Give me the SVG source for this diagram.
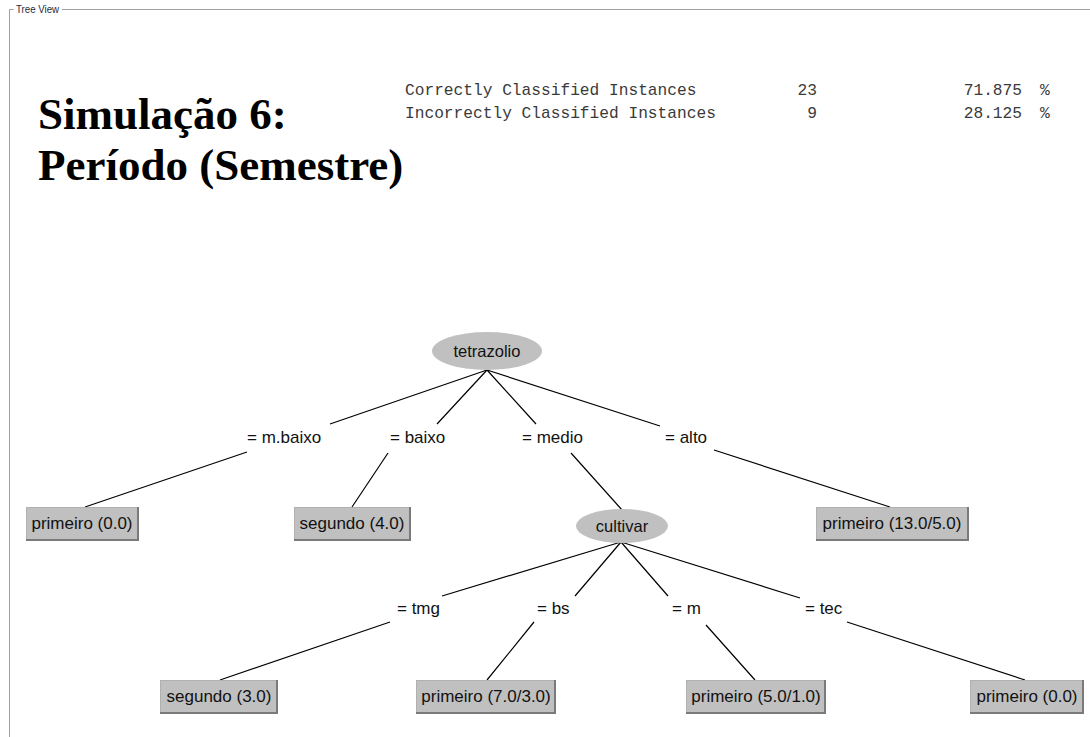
<svg xmlns="http://www.w3.org/2000/svg" width="1090" height="737" viewBox="0 0 1090 737">
  <style>
    .frame { stroke: #a0a0a0; stroke-width: 1; fill: none; }
    .frame-title { font-family: "Liberation Sans", Arial, sans-serif; font-size: 11px; fill: #1e2a44; }
    .title { font-family: "Liberation Serif", "Times New Roman", serif; font-weight: bold; font-size: 45px; fill: #000; }
    .stats { font-family: "Liberation Mono", "Courier New", monospace; font-size: 16.2px; fill: #3a3a3a; }
    .edge { stroke: #000; stroke-width: 1.2; fill: none; }
    .lbl { font-family: "Liberation Sans", Arial, sans-serif; font-size: 17px; fill: #111; }
    .oval { fill: #c0c0c0; }
    .leaf { fill: #c0c0c0; stroke: #b0b0b0; stroke-width: 1; }
    .shade { fill: none; stroke: #7a7a7a; stroke-width: 2; }
    .node-text { font-family: "Liberation Sans", Arial, sans-serif; font-size: 17px; fill: #111; text-anchor: middle; }
    .oval-text { font-family: "Liberation Sans", Arial, sans-serif; font-size: 16.5px; fill: #111; text-anchor: middle; }
  </style>

  <rect width="1090" height="737" fill="#ffffff"/>

  <!-- titled panel border -->
  <g id="panel">
    <path class="frame" d="M13.5,9.5 H9.5 V737"/>
    <path class="frame" d="M62,9.5 H1090"/>
    <text class="frame-title" x="16" y="13" textLength="43" lengthAdjust="spacingAndGlyphs">Tree View</text>
  </g>

  <!-- heading -->
  <g id="heading">
    <text class="title" x="38" y="129">Simulação 6:</text>
    <text class="title" x="38" y="180">Período (Semestre)</text>
  </g>

  <!-- evaluation summary -->
  <g id="summary">
    <text class="stats" x="405" y="95">Correctly Classified Instances</text>
    <text class="stats" x="405" y="118">Incorrectly Classified Instances</text>
    <text class="stats" x="817" y="95" text-anchor="end">23</text>
    <text class="stats" x="817" y="118" text-anchor="end">9</text>
    <text class="stats" x="1022" y="95" text-anchor="end">71.875</text>
    <text class="stats" x="1022" y="118" text-anchor="end">28.125</text>
    <text class="stats" x="1040" y="95">%</text>
    <text class="stats" x="1040" y="118">%</text>
  </g>

  <!-- connectors -->
  <g id="edges">
    <path class="edge" d="M487,370 L330,424 M247,452 L85,507"/>
    <path class="edge" d="M487,370 L437,424 M388,453 L352,507"/>
    <path class="edge" d="M487,370 L536,424 M571,453 L622,510"/>
    <path class="edge" d="M487,370 L660,426 M714,450 L890,507"/>
    <path class="edge" d="M621,542 L442,596 M390,622 L220,680"/>
    <path class="edge" d="M621,542 L575,596 M534,622 L487,680"/>
    <path class="edge" d="M621,542 L668,596 M706,625 L755,680"/>
    <path class="edge" d="M621,542 L800,598 M847,622 L1025,680"/>
  </g>

  <!-- connector labels -->
  <g id="edge-labels">
    <text class="lbl" x="247" y="443">= m.baixo</text>
    <text class="lbl" x="390" y="443">= baixo</text>
    <text class="lbl" x="522" y="443">= medio</text>
    <text class="lbl" x="665" y="443">= alto</text>
    <text class="lbl" x="397" y="614">= tmg</text>
    <text class="lbl" x="537" y="614">= bs</text>
    <text class="lbl" x="672" y="614">= m</text>
    <text class="lbl" x="805" y="614">= tec</text>
  </g>

  <!-- split nodes -->
  <g id="node-tetrazolio">
    <ellipse class="oval" cx="487" cy="351" rx="55" ry="19"/>
    <text class="oval-text" x="487" y="357">tetrazolio</text>
  </g>
  <g id="node-cultivar">
    <ellipse class="oval" cx="622" cy="526" rx="46" ry="17"/>
    <text class="oval-text" x="622" y="532">cultivar</text>
  </g>

  <!-- leaf nodes -->
  <g id="leaf-mbaixo">
    <rect class="leaf" x="26.5" y="507.5" width="111" height="32"/>
    <path class="shade" d="M138,507 V540 H26"/>
    <text class="node-text" x="82" y="529">primeiro (0.0)</text>
  </g>
  <g id="leaf-baixo">
    <rect class="leaf" x="294.5" y="507.5" width="115" height="32"/>
    <path class="shade" d="M410,507 V540 H294"/>
    <text class="node-text" x="352" y="529">segundo (4.0)</text>
  </g>
  <g id="leaf-alto">
    <rect class="leaf" x="816.5" y="507.5" width="151" height="32"/>
    <path class="shade" d="M968,507 V540 H816"/>
    <text class="node-text" x="892" y="529">primeiro (13.0/5.0)</text>
  </g>
  <g id="leaf-tmg">
    <rect class="leaf" x="160.5" y="680.5" width="116" height="32"/>
    <path class="shade" d="M277,680 V713 H160"/>
    <text class="node-text" x="219" y="702">segundo (3.0)</text>
  </g>
  <g id="leaf-bs">
    <rect class="leaf" x="416.5" y="680.5" width="138" height="32"/>
    <path class="shade" d="M555,680 V713 H416"/>
    <text class="node-text" x="486" y="702">primeiro (7.0/3.0)</text>
  </g>
  <g id="leaf-m">
    <rect class="leaf" x="686.5" y="680.5" width="138" height="32"/>
    <path class="shade" d="M825,680 V713 H686"/>
    <text class="node-text" x="756" y="702">primeiro (5.0/1.0)</text>
  </g>
  <g id="leaf-tec">
    <rect class="leaf" x="970.5" y="680.5" width="112" height="32"/>
    <path class="shade" d="M1083,680 V713 H970"/>
    <text class="node-text" x="1027" y="702">primeiro (0.0)</text>
  </g>
</svg>
